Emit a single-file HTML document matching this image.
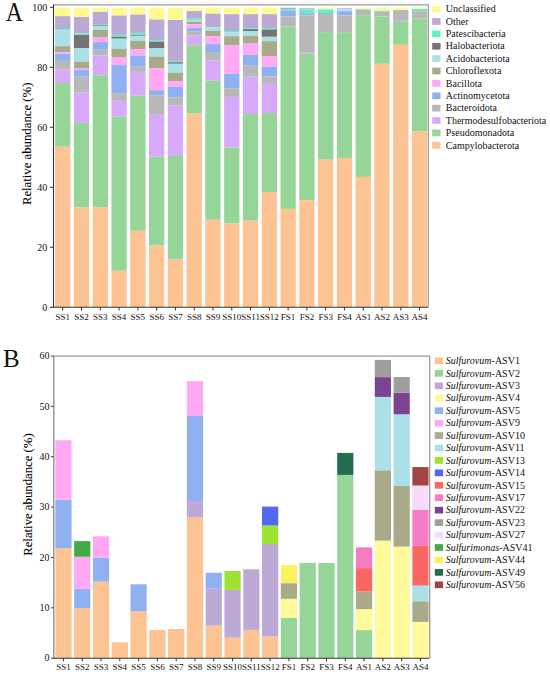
<!DOCTYPE html><html><head><meta charset="utf-8"><style>html,body{margin:0;padding:0;background:#fff;width:550px;height:675px;overflow:hidden}svg{display:block}text{font-family:"Liberation Serif",serif;fill:#111}.yl{fill:#000;stroke:#000;stroke-width:0.08px}</style></head><body>
<svg width="550" height="675" viewBox="0 0 550 675">
<rect x="55.1" y="7.7" width="15.3" height="8.5" fill="#FFF98F"/>
<rect x="55.1" y="16.2" width="15.3" height="12.9" fill="#BAA8D5"/>
<rect x="55.1" y="29.1" width="15.3" height="0.9" fill="#5FF2C3"/>
<rect x="55.1" y="30" width="15.3" height="16.2" fill="#ABE0E8"/>
<rect x="55.1" y="46.2" width="15.3" height="6" fill="#A8AA89"/>
<rect x="55.1" y="52.2" width="15.3" height="1.7" fill="#FFA9F4"/>
<rect x="55.1" y="53.9" width="15.3" height="7" fill="#8FB1F1"/>
<rect x="55.1" y="60.9" width="15.3" height="8.6" fill="#B8B8B8"/>
<rect x="55.1" y="69.5" width="15.3" height="13.5" fill="#D7A9F9"/>
<rect x="55.1" y="83" width="15.3" height="63.8" fill="#96D598"/>
<rect x="55.1" y="146.8" width="15.3" height="160.2" fill="#FDC393"/>
<rect x="73.88" y="7.7" width="15.3" height="9.3" fill="#FFF98F"/>
<rect x="73.88" y="17" width="15.3" height="16.5" fill="#BAA8D5"/>
<rect x="73.88" y="33.5" width="15.3" height="1.4" fill="#5FF2C3"/>
<rect x="73.88" y="34.9" width="15.3" height="13.5" fill="#747474"/>
<rect x="73.88" y="48.4" width="15.3" height="13.4" fill="#ABE0E8"/>
<rect x="73.88" y="61.8" width="15.3" height="6.8" fill="#A8AA89"/>
<rect x="73.88" y="68.6" width="15.3" height="1.5" fill="#FFA9F4"/>
<rect x="73.88" y="70.1" width="15.3" height="6.6" fill="#8FB1F1"/>
<rect x="73.88" y="76.7" width="15.3" height="16" fill="#B8B8B8"/>
<rect x="73.88" y="92.7" width="15.3" height="30.2" fill="#D7A9F9"/>
<rect x="73.88" y="122.9" width="15.3" height="84.4" fill="#96D598"/>
<rect x="73.88" y="207.3" width="15.3" height="99.7" fill="#FDC393"/>
<rect x="92.66" y="7.7" width="15.3" height="4.2" fill="#FFF98F"/>
<rect x="92.66" y="11.9" width="15.3" height="12.3" fill="#BAA8D5"/>
<rect x="92.66" y="24.2" width="15.3" height="0.6" fill="#5FF2C3"/>
<rect x="92.66" y="24.8" width="15.3" height="1" fill="#747474"/>
<rect x="92.66" y="25.8" width="15.3" height="4.1" fill="#ABE0E8"/>
<rect x="92.66" y="29.9" width="15.3" height="7.7" fill="#A8AA89"/>
<rect x="92.66" y="37.6" width="15.3" height="4.5" fill="#FFA9F4"/>
<rect x="92.66" y="42.1" width="15.3" height="7.7" fill="#8FB1F1"/>
<rect x="92.66" y="49.8" width="15.3" height="5.7" fill="#B8B8B8"/>
<rect x="92.66" y="55.5" width="15.3" height="19.8" fill="#D7A9F9"/>
<rect x="92.66" y="75.3" width="15.3" height="132" fill="#96D598"/>
<rect x="92.66" y="207.3" width="15.3" height="99.7" fill="#FDC393"/>
<rect x="111.44" y="7.7" width="15.3" height="7.9" fill="#FFF98F"/>
<rect x="111.44" y="15.6" width="15.3" height="19.3" fill="#BAA8D5"/>
<rect x="111.44" y="34.9" width="15.3" height="1.9" fill="#5FF2C3"/>
<rect x="111.44" y="36.8" width="15.3" height="1.9" fill="#747474"/>
<rect x="111.44" y="38.7" width="15.3" height="10.2" fill="#ABE0E8"/>
<rect x="111.44" y="48.9" width="15.3" height="8.1" fill="#A8AA89"/>
<rect x="111.44" y="57" width="15.3" height="8.1" fill="#FFA9F4"/>
<rect x="111.44" y="65.1" width="15.3" height="28" fill="#8FB1F1"/>
<rect x="111.44" y="93.1" width="15.3" height="7.7" fill="#B8B8B8"/>
<rect x="111.44" y="100.8" width="15.3" height="15.6" fill="#D7A9F9"/>
<rect x="111.44" y="116.4" width="15.3" height="154.4" fill="#96D598"/>
<rect x="111.44" y="270.8" width="15.3" height="36.2" fill="#FDC393"/>
<rect x="130.22" y="7.7" width="15.3" height="6.9" fill="#FFF98F"/>
<rect x="130.22" y="14.6" width="15.3" height="18.3" fill="#BAA8D5"/>
<rect x="130.22" y="32.9" width="15.3" height="2" fill="#5FF2C3"/>
<rect x="130.22" y="34.9" width="15.3" height="0.9" fill="#747474"/>
<rect x="130.22" y="35.8" width="15.3" height="5.2" fill="#ABE0E8"/>
<rect x="130.22" y="41" width="15.3" height="8.3" fill="#A8AA89"/>
<rect x="130.22" y="49.3" width="15.3" height="6.2" fill="#FFA9F4"/>
<rect x="130.22" y="55.5" width="15.3" height="11.2" fill="#8FB1F1"/>
<rect x="130.22" y="66.7" width="15.3" height="5.2" fill="#B8B8B8"/>
<rect x="130.22" y="71.9" width="15.3" height="23.7" fill="#D7A9F9"/>
<rect x="130.22" y="95.6" width="15.3" height="135.2" fill="#96D598"/>
<rect x="130.22" y="230.8" width="15.3" height="76.2" fill="#FDC393"/>
<rect x="149" y="7.7" width="15.3" height="11.8" fill="#FFF98F"/>
<rect x="149" y="19.5" width="15.3" height="20.6" fill="#BAA8D5"/>
<rect x="149" y="40.1" width="15.3" height="1.5" fill="#5FF2C3"/>
<rect x="149" y="41.6" width="15.3" height="6.8" fill="#747474"/>
<rect x="149" y="48.4" width="15.3" height="8.2" fill="#ABE0E8"/>
<rect x="149" y="56.6" width="15.3" height="11.6" fill="#A8AA89"/>
<rect x="149" y="68.2" width="15.3" height="22" fill="#FFA9F4"/>
<rect x="149" y="90.2" width="15.3" height="5" fill="#8FB1F1"/>
<rect x="149" y="95.2" width="15.3" height="19.6" fill="#B8B8B8"/>
<rect x="149" y="114.8" width="15.3" height="41.9" fill="#D7A9F9"/>
<rect x="149" y="156.7" width="15.3" height="88.8" fill="#96D598"/>
<rect x="149" y="245.5" width="15.3" height="61.5" fill="#FDC393"/>
<rect x="167.78" y="7.7" width="15.3" height="12.3" fill="#FFF98F"/>
<rect x="167.78" y="20" width="15.3" height="40.9" fill="#BAA8D5"/>
<rect x="167.78" y="60.9" width="15.3" height="1.3" fill="#5FF2C3"/>
<rect x="167.78" y="62.2" width="15.3" height="1.6" fill="#747474"/>
<rect x="167.78" y="63.8" width="15.3" height="9" fill="#ABE0E8"/>
<rect x="167.78" y="72.8" width="15.3" height="8.3" fill="#A8AA89"/>
<rect x="167.78" y="81.1" width="15.3" height="5.8" fill="#FFA9F4"/>
<rect x="167.78" y="86.9" width="15.3" height="10.6" fill="#8FB1F1"/>
<rect x="167.78" y="97.5" width="15.3" height="8.1" fill="#B8B8B8"/>
<rect x="167.78" y="105.6" width="15.3" height="50.3" fill="#D7A9F9"/>
<rect x="167.78" y="155.9" width="15.3" height="103.4" fill="#96D598"/>
<rect x="167.78" y="259.3" width="15.3" height="47.7" fill="#FDC393"/>
<rect x="186.56" y="7.7" width="15.3" height="3.4" fill="#FFF98F"/>
<rect x="186.56" y="11.1" width="15.3" height="7.6" fill="#BAA8D5"/>
<rect x="186.56" y="18.7" width="15.3" height="1.8" fill="#5FF2C3"/>
<rect x="186.56" y="20.5" width="15.3" height="1.2" fill="#ABE0E8"/>
<rect x="186.56" y="21.7" width="15.3" height="2.5" fill="#A8AA89"/>
<rect x="186.56" y="24.2" width="15.3" height="3.6" fill="#FFA9F4"/>
<rect x="186.56" y="27.8" width="15.3" height="3.4" fill="#8FB1F1"/>
<rect x="186.56" y="31.2" width="15.3" height="4.4" fill="#B8B8B8"/>
<rect x="186.56" y="35.6" width="15.3" height="9.7" fill="#D7A9F9"/>
<rect x="186.56" y="45.3" width="15.3" height="68.3" fill="#96D598"/>
<rect x="186.56" y="113.6" width="15.3" height="193.4" fill="#FDC393"/>
<rect x="205.34" y="7.7" width="15.3" height="6" fill="#FFF98F"/>
<rect x="205.34" y="13.7" width="15.3" height="13.5" fill="#BAA8D5"/>
<rect x="205.34" y="27.2" width="15.3" height="3.8" fill="#ABE0E8"/>
<rect x="205.34" y="31" width="15.3" height="5.2" fill="#A8AA89"/>
<rect x="205.34" y="36.2" width="15.3" height="7.9" fill="#FFA9F4"/>
<rect x="205.34" y="44.1" width="15.3" height="8.7" fill="#8FB1F1"/>
<rect x="205.34" y="52.8" width="15.3" height="7.5" fill="#B8B8B8"/>
<rect x="205.34" y="60.3" width="15.3" height="20.4" fill="#D7A9F9"/>
<rect x="205.34" y="80.7" width="15.3" height="139.1" fill="#96D598"/>
<rect x="205.34" y="219.8" width="15.3" height="87.2" fill="#FDC393"/>
<rect x="224.12" y="7.7" width="15.3" height="6.5" fill="#FFF98F"/>
<rect x="224.12" y="14.2" width="15.3" height="16.8" fill="#BAA8D5"/>
<rect x="224.12" y="31" width="15.3" height="1.4" fill="#5FF2C3"/>
<rect x="224.12" y="32.4" width="15.3" height="3.8" fill="#ABE0E8"/>
<rect x="224.12" y="36.2" width="15.3" height="9.3" fill="#A8AA89"/>
<rect x="224.12" y="45.5" width="15.3" height="28.5" fill="#FFA9F4"/>
<rect x="224.12" y="74" width="15.3" height="14.2" fill="#8FB1F1"/>
<rect x="224.12" y="88.2" width="15.3" height="8.7" fill="#B8B8B8"/>
<rect x="224.12" y="96.9" width="15.3" height="50.7" fill="#D7A9F9"/>
<rect x="224.12" y="147.6" width="15.3" height="75.9" fill="#96D598"/>
<rect x="224.12" y="223.5" width="15.3" height="83.5" fill="#FDC393"/>
<rect x="242.9" y="7.7" width="15.3" height="6.5" fill="#FFF98F"/>
<rect x="242.9" y="14.2" width="15.3" height="13.9" fill="#BAA8D5"/>
<rect x="242.9" y="28.1" width="15.3" height="1" fill="#5FF2C3"/>
<rect x="242.9" y="29.1" width="15.3" height="1.9" fill="#747474"/>
<rect x="242.9" y="31" width="15.3" height="4.8" fill="#ABE0E8"/>
<rect x="242.9" y="35.8" width="15.3" height="7.2" fill="#A8AA89"/>
<rect x="242.9" y="43" width="15.3" height="11.7" fill="#FFA9F4"/>
<rect x="242.9" y="54.7" width="15.3" height="11" fill="#8FB1F1"/>
<rect x="242.9" y="65.7" width="15.3" height="11" fill="#B8B8B8"/>
<rect x="242.9" y="76.7" width="15.3" height="37.3" fill="#D7A9F9"/>
<rect x="242.9" y="114" width="15.3" height="106.7" fill="#96D598"/>
<rect x="242.9" y="220.7" width="15.3" height="86.3" fill="#FDC393"/>
<rect x="261.68" y="7.7" width="15.3" height="6.5" fill="#FFF98F"/>
<rect x="261.68" y="14.2" width="15.3" height="13.9" fill="#BAA8D5"/>
<rect x="261.68" y="28.1" width="15.3" height="1.4" fill="#5FF2C3"/>
<rect x="261.68" y="29.5" width="15.3" height="7.3" fill="#747474"/>
<rect x="261.68" y="36.8" width="15.3" height="4.4" fill="#ABE0E8"/>
<rect x="261.68" y="41.2" width="15.3" height="14.9" fill="#A8AA89"/>
<rect x="261.68" y="56.1" width="15.3" height="10.6" fill="#FFA9F4"/>
<rect x="261.68" y="66.7" width="15.3" height="9.6" fill="#8FB1F1"/>
<rect x="261.68" y="76.3" width="15.3" height="6.7" fill="#B8B8B8"/>
<rect x="261.68" y="83" width="15.3" height="30.1" fill="#D7A9F9"/>
<rect x="261.68" y="113.1" width="15.3" height="79" fill="#96D598"/>
<rect x="261.68" y="192.1" width="15.3" height="114.9" fill="#FDC393"/>
<rect x="280.46" y="7.7" width="15.3" height="1.3" fill="#BAA8D5"/>
<rect x="280.46" y="9" width="15.3" height="1.8" fill="#5FF2C3"/>
<rect x="280.46" y="10.8" width="15.3" height="5.7" fill="#8FB1F1"/>
<rect x="280.46" y="16.5" width="15.3" height="9.9" fill="#B8B8B8"/>
<rect x="280.46" y="26.4" width="15.3" height="182.5" fill="#96D598"/>
<rect x="280.46" y="208.9" width="15.3" height="98.1" fill="#FDC393"/>
<rect x="299.24" y="7.7" width="15.3" height="0.6" fill="#FFF98F"/>
<rect x="299.24" y="8.3" width="15.3" height="1.1" fill="#BAA8D5"/>
<rect x="299.24" y="9.4" width="15.3" height="3.8" fill="#5FF2C3"/>
<rect x="299.24" y="13.2" width="15.3" height="2.3" fill="#8FB1F1"/>
<rect x="299.24" y="15.5" width="15.3" height="36.5" fill="#B8B8B8"/>
<rect x="299.24" y="52" width="15.3" height="1.4" fill="#D7A9F9"/>
<rect x="299.24" y="53.4" width="15.3" height="146.8" fill="#96D598"/>
<rect x="299.24" y="200.2" width="15.3" height="106.8" fill="#FDC393"/>
<rect x="318.02" y="7.7" width="15.3" height="1.7" fill="#FFF98F"/>
<rect x="318.02" y="9.4" width="15.3" height="3.5" fill="#5FF2C3"/>
<rect x="318.02" y="12.9" width="15.3" height="1.2" fill="#8FB1F1"/>
<rect x="318.02" y="14.1" width="15.3" height="18" fill="#B8B8B8"/>
<rect x="318.02" y="32.1" width="15.3" height="127.6" fill="#96D598"/>
<rect x="318.02" y="159.7" width="15.3" height="147.3" fill="#FDC393"/>
<rect x="336.8" y="7.7" width="15.3" height="0.6" fill="#FFF98F"/>
<rect x="336.8" y="8.3" width="15.3" height="1.1" fill="#BAA8D5"/>
<rect x="336.8" y="9.4" width="15.3" height="1.8" fill="#ABE0E8"/>
<rect x="336.8" y="11.2" width="15.3" height="4.3" fill="#8FB1F1"/>
<rect x="336.8" y="15.5" width="15.3" height="16.6" fill="#B8B8B8"/>
<rect x="336.8" y="32.1" width="15.3" height="125.8" fill="#96D598"/>
<rect x="336.8" y="157.9" width="15.3" height="149.1" fill="#FDC393"/>
<rect x="355.58" y="7.7" width="15.3" height="1.3" fill="#FFF98F"/>
<rect x="355.58" y="9" width="15.3" height="0.8" fill="#ABE0E8"/>
<rect x="355.58" y="9.8" width="15.3" height="5.3" fill="#B8B8B8"/>
<rect x="355.58" y="15.1" width="15.3" height="161.8" fill="#96D598"/>
<rect x="355.58" y="176.9" width="15.3" height="130.1" fill="#FDC393"/>
<rect x="374.36" y="7.7" width="15.3" height="3.1" fill="#FFF98F"/>
<rect x="374.36" y="10.8" width="15.3" height="1" fill="#5FF2C3"/>
<rect x="374.36" y="11.8" width="15.3" height="4.7" fill="#B8B8B8"/>
<rect x="374.36" y="16.5" width="15.3" height="47.3" fill="#96D598"/>
<rect x="374.36" y="63.8" width="15.3" height="243.2" fill="#FDC393"/>
<rect x="393.14" y="7.7" width="15.3" height="2.4" fill="#FFF98F"/>
<rect x="393.14" y="10.1" width="15.3" height="9.9" fill="#B8B8B8"/>
<rect x="393.14" y="20" width="15.3" height="1.2" fill="#D7A9F9"/>
<rect x="393.14" y="21.2" width="15.3" height="23.6" fill="#96D598"/>
<rect x="393.14" y="44.8" width="15.3" height="262.2" fill="#FDC393"/>
<rect x="411.92" y="7.7" width="15.3" height="1.3" fill="#FFF98F"/>
<rect x="411.92" y="9" width="15.3" height="2.2" fill="#5FF2C3"/>
<rect x="411.92" y="11.2" width="15.3" height="7.4" fill="#B8B8B8"/>
<rect x="411.92" y="18.6" width="15.3" height="112.8" fill="#96D598"/>
<rect x="411.92" y="131.4" width="15.3" height="175.6" fill="#FDC393"/>
<g shape-rendering="auto">
<path d="M53.5 4.9H428.3V307" fill="none" stroke="#9a9a9a" stroke-width="1.2"/>
<path d="M53.5 4.4V307.3H428.3" fill="none" stroke="#333" stroke-width="1.1"/>
<path d="M50 307.3H53.5" stroke="#333" stroke-width="1"/>
<text x="47.2" y="310.6" font-size="10" text-anchor="end">0</text>
<path d="M50 247.3H53.5" stroke="#333" stroke-width="1"/>
<text x="47.2" y="250.6" font-size="10" text-anchor="end">20</text>
<path d="M50 187.3H53.5" stroke="#333" stroke-width="1"/>
<text x="47.2" y="190.6" font-size="10" text-anchor="end">40</text>
<path d="M50 127.3H53.5" stroke="#333" stroke-width="1"/>
<text x="47.2" y="130.6" font-size="10" text-anchor="end">60</text>
<path d="M50 67.3H53.5" stroke="#333" stroke-width="1"/>
<text x="47.2" y="70.6" font-size="10" text-anchor="end">80</text>
<path d="M50 7.3H53.5" stroke="#333" stroke-width="1"/>
<text x="47.2" y="10.6" font-size="10" text-anchor="end">100</text>
<path d="M62.75 307.3V310.5" stroke="#333" stroke-width="1"/>
<text x="62.75" y="320" font-size="9" text-anchor="middle">SS1</text>
<path d="M81.53 307.3V310.5" stroke="#333" stroke-width="1"/>
<text x="81.53" y="320" font-size="9" text-anchor="middle">SS2</text>
<path d="M100.31 307.3V310.5" stroke="#333" stroke-width="1"/>
<text x="100.31" y="320" font-size="9" text-anchor="middle">SS3</text>
<path d="M119.09 307.3V310.5" stroke="#333" stroke-width="1"/>
<text x="119.09" y="320" font-size="9" text-anchor="middle">SS4</text>
<path d="M137.87 307.3V310.5" stroke="#333" stroke-width="1"/>
<text x="137.87" y="320" font-size="9" text-anchor="middle">SS5</text>
<path d="M156.65 307.3V310.5" stroke="#333" stroke-width="1"/>
<text x="156.65" y="320" font-size="9" text-anchor="middle">SS6</text>
<path d="M175.43 307.3V310.5" stroke="#333" stroke-width="1"/>
<text x="175.43" y="320" font-size="9" text-anchor="middle">SS7</text>
<path d="M194.21 307.3V310.5" stroke="#333" stroke-width="1"/>
<text x="194.21" y="320" font-size="9" text-anchor="middle">SS8</text>
<path d="M212.99 307.3V310.5" stroke="#333" stroke-width="1"/>
<text x="212.99" y="320" font-size="9" text-anchor="middle">SS9</text>
<path d="M231.77 307.3V310.5" stroke="#333" stroke-width="1"/>
<text x="231.77" y="320" font-size="9" text-anchor="middle">SS10</text>
<path d="M250.55 307.3V310.5" stroke="#333" stroke-width="1"/>
<text x="250.55" y="320" font-size="9" text-anchor="middle">SS11</text>
<path d="M269.33 307.3V310.5" stroke="#333" stroke-width="1"/>
<text x="269.33" y="320" font-size="9" text-anchor="middle">SS12</text>
<path d="M288.11 307.3V310.5" stroke="#333" stroke-width="1"/>
<text x="288.11" y="320" font-size="9" text-anchor="middle">FS1</text>
<path d="M306.89 307.3V310.5" stroke="#333" stroke-width="1"/>
<text x="306.89" y="320" font-size="9" text-anchor="middle">FS2</text>
<path d="M325.67 307.3V310.5" stroke="#333" stroke-width="1"/>
<text x="325.67" y="320" font-size="9" text-anchor="middle">FS3</text>
<path d="M344.45 307.3V310.5" stroke="#333" stroke-width="1"/>
<text x="344.45" y="320" font-size="9" text-anchor="middle">FS4</text>
<path d="M363.23 307.3V310.5" stroke="#333" stroke-width="1"/>
<text x="363.23" y="320" font-size="9" text-anchor="middle">AS1</text>
<path d="M382.01 307.3V310.5" stroke="#333" stroke-width="1"/>
<text x="382.01" y="320" font-size="9" text-anchor="middle">AS2</text>
<path d="M400.79 307.3V310.5" stroke="#333" stroke-width="1"/>
<text x="400.79" y="320" font-size="9" text-anchor="middle">AS3</text>
<path d="M419.57 307.3V310.5" stroke="#333" stroke-width="1"/>
<text x="419.57" y="320" font-size="9" text-anchor="middle">AS4</text>
</g>
<text transform="translate(5.8 21.4) scale(0.95 1.06)" font-size="25">A</text>
<text transform="translate(31.1 205.1) rotate(-90)" class="yl" font-size="12.75">Relative abundance (%)</text>
<rect x="432.2" y="5.75" width="8.3" height="6.7" fill="#FFF98F"/>
<text x="445.8" y="12.35" font-size="10">Unclassified</text>
<rect x="432.2" y="18.13" width="8.3" height="6.7" fill="#BAA8D5"/>
<text x="445.8" y="24.73" font-size="10">Other</text>
<rect x="432.2" y="30.51" width="8.3" height="6.7" fill="#5FF2C3"/>
<text x="445.8" y="37.11" font-size="10">Patescibacteria</text>
<rect x="432.2" y="42.89" width="8.3" height="6.7" fill="#747474"/>
<text x="445.8" y="49.49" font-size="10">Halobacteriota</text>
<rect x="432.2" y="55.27" width="8.3" height="6.7" fill="#ABE0E8"/>
<text x="445.8" y="61.87" font-size="10">Acidobacteriota</text>
<rect x="432.2" y="67.65" width="8.3" height="6.7" fill="#A8AA89"/>
<text x="445.8" y="74.25" font-size="10">Chloroflexota</text>
<rect x="432.2" y="80.03" width="8.3" height="6.7" fill="#FFA9F4"/>
<text x="445.8" y="86.63" font-size="10">Bacillota</text>
<rect x="432.2" y="92.41" width="8.3" height="6.7" fill="#8FB1F1"/>
<text x="445.8" y="99.01" font-size="10">Actinomycetota</text>
<rect x="432.2" y="104.79" width="8.3" height="6.7" fill="#B8B8B8"/>
<text x="445.8" y="111.39" font-size="10">Bacteroidota</text>
<rect x="432.2" y="117.17" width="8.3" height="6.7" fill="#D7A9F9"/>
<text x="445.8" y="123.77" font-size="10">Thermodesulfobacteriota</text>
<rect x="432.2" y="129.55" width="8.3" height="6.7" fill="#96D598"/>
<text x="445.8" y="136.15" font-size="10">Pseudomonadota</text>
<rect x="432.2" y="141.93" width="8.3" height="6.7" fill="#FDC393"/>
<text x="445.8" y="148.53" font-size="10">Campylobacterota</text>
<rect x="55.35" y="548.2" width="16.2" height="109.8" fill="#FDC393"/>
<rect x="55.35" y="499.8" width="16.2" height="48.4" fill="#8FB1F1"/>
<rect x="55.35" y="440.2" width="16.2" height="59.6" fill="#FFA9F4"/>
<rect x="74.14" y="608.2" width="16.2" height="49.8" fill="#FDC393"/>
<rect x="74.14" y="588.8" width="16.2" height="19.4" fill="#8FB1F1"/>
<rect x="74.14" y="556.7" width="16.2" height="32.1" fill="#FFA9F4"/>
<rect x="74.14" y="541.1" width="16.2" height="15.6" fill="#44AA44"/>
<rect x="92.93" y="581.6" width="16.2" height="76.4" fill="#FDC393"/>
<rect x="92.93" y="557.8" width="16.2" height="23.8" fill="#8FB1F1"/>
<rect x="92.93" y="536.3" width="16.2" height="21.5" fill="#FFA9F4"/>
<rect x="111.72" y="642.3" width="16.2" height="15.7" fill="#FDC393"/>
<rect x="130.51" y="611.3" width="16.2" height="46.7" fill="#FDC393"/>
<rect x="130.51" y="584.3" width="16.2" height="27" fill="#8FB1F1"/>
<rect x="149.3" y="630" width="16.2" height="28" fill="#FDC393"/>
<rect x="168.09" y="629" width="16.2" height="29" fill="#FDC393"/>
<rect x="186.88" y="517.3" width="16.2" height="140.7" fill="#FDC393"/>
<rect x="186.88" y="501" width="16.2" height="16.3" fill="#BCA9D6"/>
<rect x="186.88" y="415.4" width="16.2" height="85.6" fill="#8FB1F1"/>
<rect x="186.88" y="381.1" width="16.2" height="34.3" fill="#FFA9F4"/>
<rect x="205.67" y="625.6" width="16.2" height="32.4" fill="#FDC393"/>
<rect x="205.67" y="588.2" width="16.2" height="37.4" fill="#BCA9D6"/>
<rect x="205.67" y="572.7" width="16.2" height="15.5" fill="#8FB1F1"/>
<rect x="224.46" y="637.6" width="16.2" height="20.4" fill="#FDC393"/>
<rect x="224.46" y="589.9" width="16.2" height="47.7" fill="#BCA9D6"/>
<rect x="224.46" y="571" width="16.2" height="18.9" fill="#9FE332"/>
<rect x="243.25" y="629.9" width="16.2" height="28.1" fill="#FDC393"/>
<rect x="243.25" y="569.3" width="16.2" height="60.6" fill="#BCA9D6"/>
<rect x="262.04" y="636.3" width="16.2" height="21.7" fill="#FDC393"/>
<rect x="262.04" y="544" width="16.2" height="92.3" fill="#BCA9D6"/>
<rect x="262.04" y="525.5" width="16.2" height="18.5" fill="#9FE332"/>
<rect x="262.04" y="506.6" width="16.2" height="18.9" fill="#5367F2"/>
<rect x="280.83" y="618" width="16.2" height="40" fill="#96D598"/>
<rect x="280.83" y="598.8" width="16.2" height="19.2" fill="#FFF99A"/>
<rect x="280.83" y="583.2" width="16.2" height="15.6" fill="#A8AA89"/>
<rect x="280.83" y="565.1" width="16.2" height="18.1" fill="#FAF45C"/>
<rect x="299.62" y="563" width="16.2" height="95" fill="#96D598"/>
<rect x="318.41" y="563" width="16.2" height="95" fill="#96D598"/>
<rect x="337.2" y="474.9" width="16.2" height="183.1" fill="#96D598"/>
<rect x="337.2" y="452.9" width="16.2" height="22" fill="#236E50"/>
<rect x="355.99" y="630.1" width="16.2" height="27.9" fill="#96D598"/>
<rect x="355.99" y="609.1" width="16.2" height="21" fill="#FFF99A"/>
<rect x="355.99" y="591.5" width="16.2" height="17.6" fill="#A8AA89"/>
<rect x="355.99" y="568.1" width="16.2" height="23.4" fill="#FA6662"/>
<rect x="355.99" y="547.4" width="16.2" height="20.7" fill="#F47CC5"/>
<rect x="374.78" y="540.6" width="16.2" height="117.4" fill="#FFF99A"/>
<rect x="374.78" y="470.3" width="16.2" height="70.3" fill="#A8AA89"/>
<rect x="374.78" y="396.9" width="16.2" height="73.4" fill="#ABE0E8"/>
<rect x="374.78" y="377.1" width="16.2" height="19.8" fill="#7C4392"/>
<rect x="374.78" y="359.9" width="16.2" height="17.2" fill="#9E9E9E"/>
<rect x="393.57" y="546.6" width="16.2" height="111.4" fill="#FFF99A"/>
<rect x="393.57" y="486" width="16.2" height="60.6" fill="#A8AA89"/>
<rect x="393.57" y="414.3" width="16.2" height="71.7" fill="#ABE0E8"/>
<rect x="393.57" y="392.8" width="16.2" height="21.5" fill="#7C4392"/>
<rect x="393.57" y="377" width="16.2" height="15.8" fill="#9E9E9E"/>
<rect x="412.36" y="621.9" width="16.2" height="36.1" fill="#FFF99A"/>
<rect x="412.36" y="601.3" width="16.2" height="20.6" fill="#A8AA89"/>
<rect x="412.36" y="585.6" width="16.2" height="15.7" fill="#ABE0E8"/>
<rect x="412.36" y="545.7" width="16.2" height="39.9" fill="#FA6662"/>
<rect x="412.36" y="509.9" width="16.2" height="35.8" fill="#F47CC5"/>
<rect x="412.36" y="485.5" width="16.2" height="24.4" fill="#F8DAF9"/>
<rect x="412.36" y="467.1" width="16.2" height="18.4" fill="#A24444"/>
<g shape-rendering="auto">
<path d="M54 356.1H429.7V658" fill="none" stroke="#9a9a9a" stroke-width="1.3"/>
<path d="M53.8 356.1V658" fill="none" stroke="#888" stroke-width="1.3"/>
<path d="M53.2 658.2H429.5" fill="none" stroke="#333" stroke-width="1.1"/>
<path d="M51 658.2H53.5" stroke="#333" stroke-width="1"/>
<text x="49.5" y="661.4" font-size="10" text-anchor="end">0</text>
<path d="M51 607.83H53.5" stroke="#333" stroke-width="1"/>
<text x="49.5" y="611.03" font-size="10" text-anchor="end">10</text>
<path d="M51 557.46H53.5" stroke="#333" stroke-width="1"/>
<text x="49.5" y="560.66" font-size="10" text-anchor="end">20</text>
<path d="M51 507.09H53.5" stroke="#333" stroke-width="1"/>
<text x="49.5" y="510.29" font-size="10" text-anchor="end">30</text>
<path d="M51 456.72H53.5" stroke="#333" stroke-width="1"/>
<text x="49.5" y="459.92" font-size="10" text-anchor="end">40</text>
<path d="M51 406.35H53.5" stroke="#333" stroke-width="1"/>
<text x="49.5" y="409.55" font-size="10" text-anchor="end">50</text>
<path d="M51 355.98H53.5" stroke="#333" stroke-width="1"/>
<text x="49.5" y="359.18" font-size="10" text-anchor="end">60</text>
<path d="M63.45 658.2V661.3" stroke="#333" stroke-width="1"/>
<text x="63.45" y="670" font-size="9" text-anchor="middle">SS1</text>
<path d="M82.24 658.2V661.3" stroke="#333" stroke-width="1"/>
<text x="82.24" y="670" font-size="9" text-anchor="middle">SS2</text>
<path d="M101.03 658.2V661.3" stroke="#333" stroke-width="1"/>
<text x="101.03" y="670" font-size="9" text-anchor="middle">SS3</text>
<path d="M119.82 658.2V661.3" stroke="#333" stroke-width="1"/>
<text x="119.82" y="670" font-size="9" text-anchor="middle">SS4</text>
<path d="M138.61 658.2V661.3" stroke="#333" stroke-width="1"/>
<text x="138.61" y="670" font-size="9" text-anchor="middle">SS5</text>
<path d="M157.4 658.2V661.3" stroke="#333" stroke-width="1"/>
<text x="157.4" y="670" font-size="9" text-anchor="middle">SS6</text>
<path d="M176.19 658.2V661.3" stroke="#333" stroke-width="1"/>
<text x="176.19" y="670" font-size="9" text-anchor="middle">SS7</text>
<path d="M194.98 658.2V661.3" stroke="#333" stroke-width="1"/>
<text x="194.98" y="670" font-size="9" text-anchor="middle">SS8</text>
<path d="M213.77 658.2V661.3" stroke="#333" stroke-width="1"/>
<text x="213.77" y="670" font-size="9" text-anchor="middle">SS9</text>
<path d="M232.56 658.2V661.3" stroke="#333" stroke-width="1"/>
<text x="232.56" y="670" font-size="9" text-anchor="middle">SS10</text>
<path d="M251.35 658.2V661.3" stroke="#333" stroke-width="1"/>
<text x="251.35" y="670" font-size="9" text-anchor="middle">SS11</text>
<path d="M270.14 658.2V661.3" stroke="#333" stroke-width="1"/>
<text x="270.14" y="670" font-size="9" text-anchor="middle">SS12</text>
<path d="M288.93 658.2V661.3" stroke="#333" stroke-width="1"/>
<text x="288.93" y="670" font-size="9" text-anchor="middle">FS1</text>
<path d="M307.72 658.2V661.3" stroke="#333" stroke-width="1"/>
<text x="307.72" y="670" font-size="9" text-anchor="middle">FS2</text>
<path d="M326.51 658.2V661.3" stroke="#333" stroke-width="1"/>
<text x="326.51" y="670" font-size="9" text-anchor="middle">FS3</text>
<path d="M345.3 658.2V661.3" stroke="#333" stroke-width="1"/>
<text x="345.3" y="670" font-size="9" text-anchor="middle">FS4</text>
<path d="M364.09 658.2V661.3" stroke="#333" stroke-width="1"/>
<text x="364.09" y="670" font-size="9" text-anchor="middle">AS1</text>
<path d="M382.88 658.2V661.3" stroke="#333" stroke-width="1"/>
<text x="382.88" y="670" font-size="9" text-anchor="middle">AS2</text>
<path d="M401.67 658.2V661.3" stroke="#333" stroke-width="1"/>
<text x="401.67" y="670" font-size="9" text-anchor="middle">AS3</text>
<path d="M420.46 658.2V661.3" stroke="#333" stroke-width="1"/>
<text x="420.46" y="670" font-size="9" text-anchor="middle">AS4</text>
</g>
<text transform="translate(3.1 366.5) scale(1 1.03)" font-size="25">B</text>
<text transform="translate(31.5 555.8) rotate(-90)" class="yl" font-size="12.75">Relative abundance (%)</text>
<rect x="434.8" y="357.55" width="8.3" height="6.7" fill="#FDC393"/>
<text x="445.8" y="364.15" font-size="10"><tspan font-style="italic">Sulfurovum</tspan>-ASV1</text>
<rect x="434.8" y="369.99" width="8.3" height="6.7" fill="#96D598"/>
<text x="445.8" y="376.59" font-size="10"><tspan font-style="italic">Sulfurovum</tspan>-ASV2</text>
<rect x="434.8" y="382.43" width="8.3" height="6.7" fill="#BCA9D6"/>
<text x="445.8" y="389.03" font-size="10"><tspan font-style="italic">Sulfurovum</tspan>-ASV3</text>
<rect x="434.8" y="394.87" width="8.3" height="6.7" fill="#FFF99A"/>
<text x="445.8" y="401.47" font-size="10"><tspan font-style="italic">Sulfurovum</tspan>-ASV4</text>
<rect x="434.8" y="407.31" width="8.3" height="6.7" fill="#8FB1F1"/>
<text x="445.8" y="413.91" font-size="10"><tspan font-style="italic">Sulfurovum</tspan>-ASV5</text>
<rect x="434.8" y="419.75" width="8.3" height="6.7" fill="#FFA9F4"/>
<text x="445.8" y="426.35" font-size="10"><tspan font-style="italic">Sulfurovum</tspan>-ASV9</text>
<rect x="434.8" y="432.19" width="8.3" height="6.7" fill="#A8AA89"/>
<text x="445.8" y="438.79" font-size="10"><tspan font-style="italic">Sulfurovum</tspan>-ASV10</text>
<rect x="434.8" y="444.63" width="8.3" height="6.7" fill="#ABE0E8"/>
<text x="445.8" y="451.23" font-size="10"><tspan font-style="italic">Sulfurovum</tspan>-ASV11</text>
<rect x="434.8" y="457.07" width="8.3" height="6.7" fill="#9FE332"/>
<text x="445.8" y="463.67" font-size="10"><tspan font-style="italic">Sulfurovum</tspan>-ASV13</text>
<rect x="434.8" y="469.51" width="8.3" height="6.7" fill="#5367F2"/>
<text x="445.8" y="476.11" font-size="10"><tspan font-style="italic">Sulfurovum</tspan>-ASV14</text>
<rect x="434.8" y="481.95" width="8.3" height="6.7" fill="#FA6662"/>
<text x="445.8" y="488.55" font-size="10"><tspan font-style="italic">Sulfurovum</tspan>-ASV15</text>
<rect x="434.8" y="494.39" width="8.3" height="6.7" fill="#F47CC5"/>
<text x="445.8" y="500.99" font-size="10"><tspan font-style="italic">Sulfurovum</tspan>-ASV17</text>
<rect x="434.8" y="506.83" width="8.3" height="6.7" fill="#7C4392"/>
<text x="445.8" y="513.43" font-size="10"><tspan font-style="italic">Sulfurovum</tspan>-ASV22</text>
<rect x="434.8" y="519.27" width="8.3" height="6.7" fill="#9E9E9E"/>
<text x="445.8" y="525.87" font-size="10"><tspan font-style="italic">Sulfurovum</tspan>-ASV23</text>
<rect x="434.8" y="531.71" width="8.3" height="6.7" fill="#F8DAF9"/>
<text x="445.8" y="538.31" font-size="10"><tspan font-style="italic">Sulfurovum</tspan>-ASV27</text>
<rect x="434.8" y="544.15" width="8.3" height="6.7" fill="#44AA44"/>
<text x="445.8" y="550.75" font-size="10"><tspan font-style="italic">Sulfurimonas</tspan>-ASV41</text>
<rect x="434.8" y="556.59" width="8.3" height="6.7" fill="#FAF45C"/>
<text x="445.8" y="563.19" font-size="10"><tspan font-style="italic">Sulfurovum</tspan>-ASV44</text>
<rect x="434.8" y="569.03" width="8.3" height="6.7" fill="#236E50"/>
<text x="445.8" y="575.63" font-size="10"><tspan font-style="italic">Sulfurovum</tspan>-ASV49</text>
<rect x="434.8" y="581.47" width="8.3" height="6.7" fill="#A24444"/>
<text x="445.8" y="588.07" font-size="10"><tspan font-style="italic">Sulfurovum</tspan>-ASV56</text>
</svg></body></html>
